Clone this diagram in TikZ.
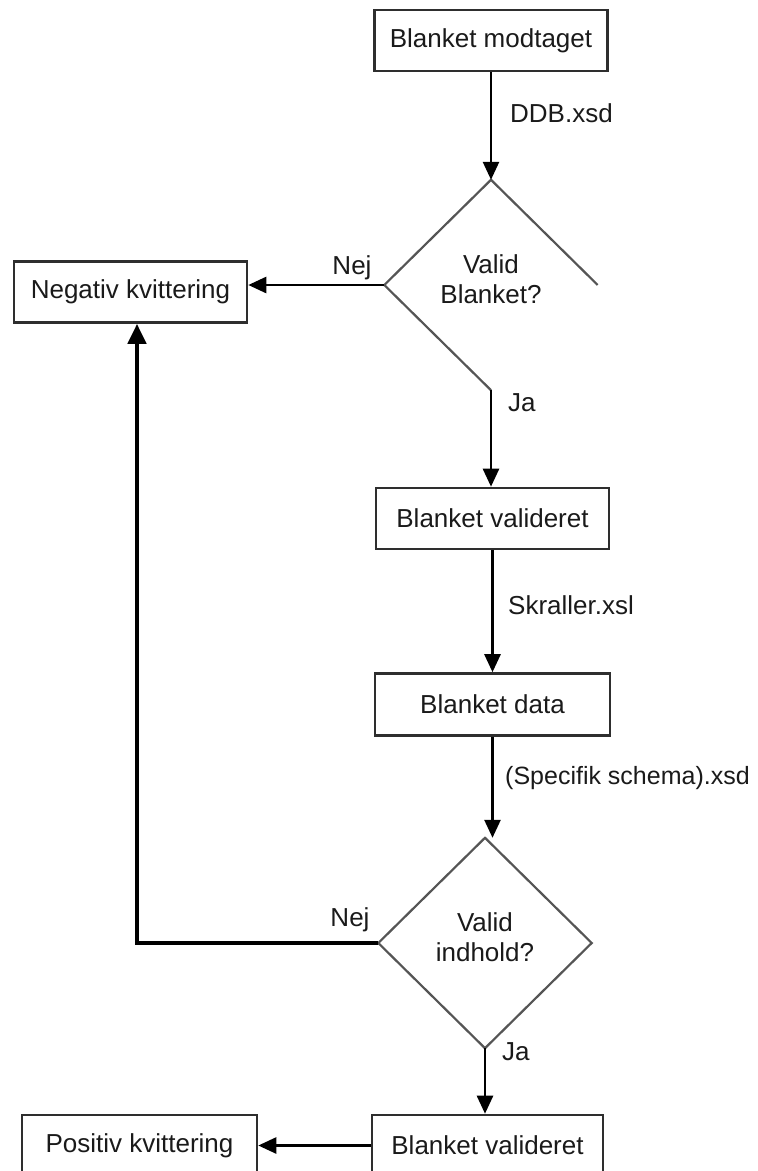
\documentclass[tikz,border=0pt]{standalone}
\usepackage{fontspec}
\setmainfont{Liberation Sans}
\usetikzlibrary{arrows.meta,shapes.geometric}
\definecolor{boxc}{HTML}{2E2E2E}
\definecolor{diac}{HTML}{555555}
\definecolor{txtc}{HTML}{1A1A1A}
\begin{document}
\begin{tikzpicture}[x=1pt,y=-1pt,
  every node/.style={text=txtc},
  txt/.style={font=\fontsize{26}{30}\selectfont},
  box/.style={txt, draw=boxc, line width=2.6pt, minimum width=233pt, minimum height=61pt, inner sep=0pt},
  dia/.style={diamond, draw=none, minimum width=213pt, minimum height=210pt, inner sep=0pt},
  diaedge/.style={draw=diac, line width=2.2pt, line join=miter},
  lbl/.style={txt, inner sep=0pt},
  conn/.style={draw=black, line width=2.6pt, -{Triangle[length=18pt,width=16pt]}},
  feed/.style={draw=black, line width=4.5pt, -{Triangle[length=20pt,width=18pt]}},
  plain/.style={draw=black, line width=2.6pt}]
\useasboundingbox (0,0) rectangle (758,1171);
\clip (0,0) rectangle (758,1171);

% nodes
\node[box] (b1) at (491,40.5) {Blanket modtaget};
\node[dia] (d1) at (491,285) {};
\node[lbl, align=center] (d1t) at (491,279) {Valid\\Blanket?};
\node[box] (neg) at (130.5,292) {Negativ kvittering};
\node[box] (bv1) at (492.5,518.5) {Blanket valideret};
\node[box, minimum width=235pt, minimum height=62pt] (bd) at (492.5,704.5) {Blanket data};
\node[dia] (d2) at (485,943) {};
\node[lbl, align=center] (d2t) at (485,937) {Valid\\indhold?};
\node[box, minimum width=231pt] (bv2) at (487.5,1145.5) {Blanket valideret};
\node[box, minimum width=235pt] (pos) at (139.5,1145.5) {Positiv kvittering};

% diamond outlines
\draw[diaedge] (d1.east) -- (d1.north) -- (d1.west) -- (d1.south);
\draw[diaedge] (d2.north) -- (d2.east) -- (d2.south) -- (d2.west) -- cycle;

% connectors
\draw[conn] (b1.south) -- (b1.south |- d1.north);
\node[lbl, anchor=west] (l1) at (510,113) {DDB.xsd};

\draw[conn] (d1.west) -- (d1.west -| neg.east);
\node[lbl] (n1) at (352,268) {Nej};

\draw[conn] (d1.south) -- (d1.south |- bv1.north);
\node[lbl, anchor=west] (j1) at (508,403) {Ja};

\draw[conn] (bv1.south) -- (bv1.south |- bd.north);
\node[lbl, anchor=west] (l2) at (508,605) {Skraller.xsl};

\draw[conn] (bd.south) -- (bd.south |- d2.north);
\node[lbl, anchor=west, font=\fontsize{25}{30}\selectfont] (l3) at (505,778) {(Specifik schema).xsd};

\coordinate (negin) at ([xshift=6.5pt]neg.south);
\coordinate (corner) at (d2.west -| negin);
\draw[feed] (d2.west) -- (corner) -- (negin);
\node[lbl] (n2) at (350,920) {Nej};

\draw[conn] (d2.south) -- (d2.south |- bv2.north);
\node[lbl, anchor=west] (j2) at (502,1052) {Ja};

\draw[conn] (bv2.west) -- (pos.east);
\end{tikzpicture}
\end{document}
